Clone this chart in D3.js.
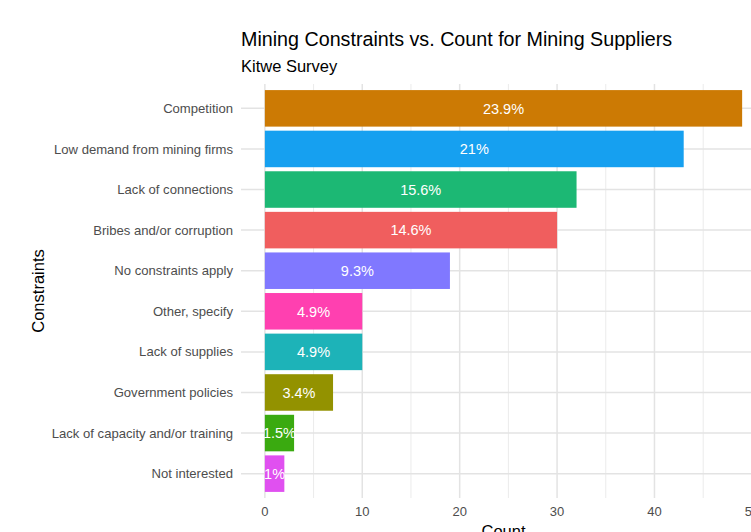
<!DOCTYPE html>
<html lang="en">
<head>
<meta charset="utf-8">
<title>Mining Constraints</title>
<script src="https://d3js.org/d3.v7.min.js"></script>
<style>
  body { margin: 0; background: #fff; }
  svg { font-family: "Liberation Sans", Arial, sans-serif; display: block; }
</style>
</head>
<body>
<div id="chart"></div>
<script>
// data, top bar first
var categories = ["Competition", "Low demand from mining firms", "Lack of connections",
  "Bribes and/or corruption", "No constraints apply", "Other, specify", "Lack of supplies",
  "Government policies", "Lack of capacity and/or training", "Not interested"];
var counts = [49, 43, 32, 30, 19, 10, 10, 7, 3, 2];
var pctLabels = ["23.9%", "21%", "15.6%", "14.6%", "9.3%", "4.9%", "4.9%", "3.4%", "1.5%", "1%"];
var barColors = ["#cc7a04", "#16a0f0", "#1cb874", "#f05e5e", "#8078ff", "#ff40b0",
  "#1db3b8", "#939200", "#3aaa10", "#e050f0"];
var xTicks = [0, 10, 20, 30, 40, 50];

var width = 751, height = 532;
var panel = {left: 241, right: 766, top: 84, bottom: 498};

var svg = d3.select("#chart").append("svg")
  .attr("width", width)
  .attr("height", height);

// ggplot style expansion: 5% each side
var maxVal = d3.max(counts);
var x = d3.scaleLinear()
  .domain([-maxVal * 0.05, maxVal * 1.05])
  .range([panel.left, panel.right]);

// discrete axis with 0.6 expansion
var step = (panel.bottom - panel.top) / (categories.length - 1 + 1.2);
var y = d3.scaleBand()
  .domain(categories)
  .range([panel.top + 0.6 * step - step / 2, panel.bottom - 0.6 * step + step / 2])
  .paddingInner(0.1)
  .paddingOuter(0.05);

var grid = svg.append("g");

// minor vertical grid
grid.selectAll("line.minor")
  .data([5, 15, 25, 35, 45])
  .enter().append("line")
  .attr("x1", d => x(d)).attr("x2", d => x(d))
  .attr("y1", panel.top).attr("y2", panel.bottom)
  .attr("stroke", "#ebebeb").attr("stroke-width", 1);

// major vertical grid
grid.selectAll("line.major")
  .data(xTicks)
  .enter().append("line")
  .attr("x1", d => x(d)).attr("x2", d => x(d))
  .attr("y1", panel.top).attr("y2", panel.bottom)
  .attr("stroke", "#e3e3e3").attr("stroke-width", 1.5);

// horizontal grid
grid.selectAll("line.h")
  .data(categories)
  .enter().append("line")
  .attr("x1", panel.left).attr("x2", panel.right)
  .attr("y1", d => y(d) + y.bandwidth() / 2)
  .attr("y2", d => y(d) + y.bandwidth() / 2)
  .attr("stroke", "#e3e3e3").attr("stroke-width", 1.5);

// bars
svg.append("g").selectAll("rect")
  .data(categories)
  .enter().append("rect")
  .attr("x", x(0))
  .attr("y", d => y(d))
  .attr("width", (d, i) => x(counts[i]) - x(0))
  .attr("height", y.bandwidth())
  .attr("fill", (d, i) => barColors[i]);

// percent labels
svg.append("g").selectAll("text")
  .data(categories)
  .enter().append("text")
  .attr("x", (d, i) => x(counts[i] / 2))
  .attr("y", d => y(d) + y.bandwidth() / 2)
  .attr("dy", "0.36em")
  .attr("text-anchor", "middle")
  .attr("fill", "#fff")
  .attr("font-size", "14.5px")
  .text((d, i) => pctLabels[i]);

// y axis labels
svg.append("g").selectAll("text")
  .data(categories)
  .enter().append("text")
  .attr("x", 233)
  .attr("y", d => y(d) + y.bandwidth() / 2)
  .attr("dy", "0.35em")
  .attr("text-anchor", "end")
  .attr("fill", "#4d4d4d")
  .attr("font-size", "13.1px")
  .text(d => d);

// x axis labels
svg.append("g").selectAll("text")
  .data(xTicks)
  .enter().append("text")
  .attr("x", d => x(d))
  .attr("y", 511)
  .attr("dy", "0.35em")
  .attr("text-anchor", "middle")
  .attr("fill", "#4d4d4d")
  .attr("font-size", "13px")
  .text(d => d);

// axis titles
svg.append("text")
  .attr("x", (panel.left + panel.right) / 2)
  .attr("y", 537)
  .attr("text-anchor", "middle")
  .attr("font-size", "16.5px")
  .attr("fill", "#000")
  .text("Count");

svg.append("text")
  .attr("transform", "translate(44," + ((panel.top + panel.bottom) / 2) + ") rotate(-90)")
  .attr("text-anchor", "middle")
  .attr("font-size", "16.5px")
  .attr("fill", "#000")
  .text("Constraints");

// title and subtitle
svg.append("text")
  .attr("x", 241)
  .attr("y", 46)
  .attr("font-size", "19.7px")
  .attr("fill", "#000")
  .text("Mining Constraints vs. Count for Mining Suppliers");

svg.append("text")
  .attr("x", 241)
  .attr("y", 72)
  .attr("font-size", "16.5px")
  .attr("fill", "#000")
  .text("Kitwe Survey");
</script>
</body>
</html>
